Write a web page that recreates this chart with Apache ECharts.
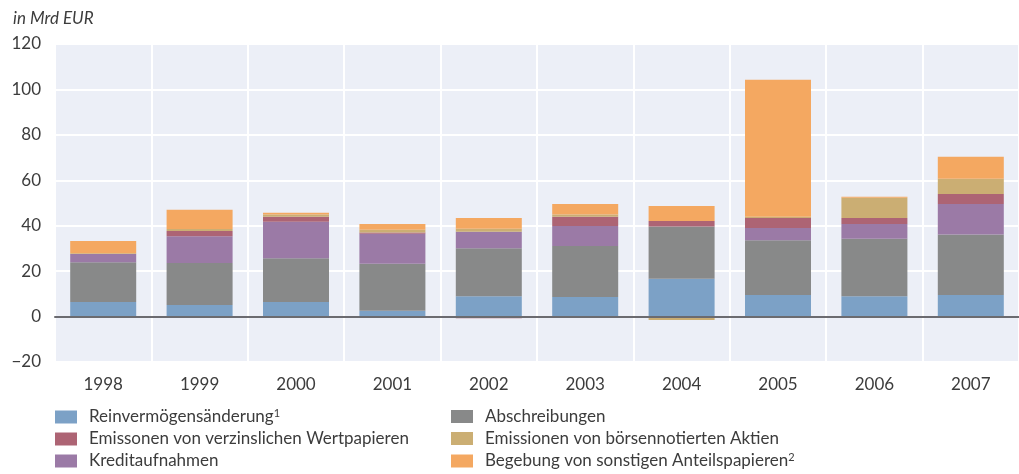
<!DOCTYPE html>
<html>
<head>
<meta charset="utf-8">
<script src="https://cdn.jsdelivr.net/npm/echarts@6/dist/echarts.min.js"></script>
<style>
  html, body { margin: 0; padding: 0; background: #fff; }
  #chart { width: 1019px; height: 474px; }
</style>
</head>
<body>
<div id="chart"></div>
<script>
// Jahre
var years = ["1998", "1999", "2000", "2001", "2002", "2003", "2004", "2005", "2006", "2007"];
// Werte in Mrd EUR
var reinvermoegen = [6.4, 5.1, 6.4, 2.6, 9.0, 8.6, 16.7, 9.5, 9.0, 9.5];
var abschreibungen = [17.5, 18.5, 19.3, 20.6, 21.1, 22.5, 22.9, 24.1, 25.3, 26.6];
var kredite = [3.6, 11.8, 16.0, 13.3, 7.2, 8.8, 0, 5.4, 6.5, 13.5];
var verzinslich = [-0.5, 2.3, 2.2, 0.5, -0.7, 4.0, 2.5, 4.4, 2.6, 4.4];
var aktien = [0.4, 0.9, 1.0, 1.2, 1.4, 1.0, -1.5, 0.5, 8.9, 6.7];
var sonstige = [5.4, 8.4, 0.8, 2.6, 4.7, 4.7, 6.6, 60.4, 0.4, 9.7];
var yTicks = [-20, 0, 20, 40, 60, 80, 100, 120];

var names = {
  blue: "Reinvermögensänderung",
  red: "Emissonen von verzinslichen Wertpapieren",
  purple: "Kreditaufnahmen",
  gray: "Abschreibungen",
  tan: "Emissionen von börsennotierten Aktien",
  orange: "Begebung von sonstigen Anteilspapieren"
};
var sup = {};
sup[names.blue] = "1";
sup[names.orange] = "2";

var font = "Lato, 'Open Sans', sans-serif";
var textColor = "#3c3c3c";

var legendText = {
  color: textColor,
  fontFamily: font,
  fontSize: 17,
  rich: {
    t: { color: textColor, fontFamily: font, fontSize: 17, lineHeight: 18, padding: [0, 0, 0, 7] },
    s: { color: textColor, fontFamily: font, fontSize: 11, lineHeight: 11, verticalAlign: "top" }
  }
};
function legendFormatter(name) {
  return "{t|" + name + "}" + (sup[name] ? "{s|" + sup[name] + "}" : "");
}

function barSeries(name, data, color) {
  return {
    name: name,
    type: "bar",
    stack: "total",
    barWidth: 66,
    data: data,
    itemStyle: { color: color },
    emphasis: { disabled: true }
  };
}

function legendBlock(left, data) {
  return {
    orient: "vertical",
    left: left,
    top: 408,
    height: 70,
    icon: "rect",
    itemWidth: 22,
    itemHeight: 13,
    itemGap: 5,
    padding: 0,
    selectedMode: false,
    data: data,
    formatter: legendFormatter,
    textStyle: legendText
  };
}

var chart = echarts.init(document.getElementById("chart"));
var option = {
  animation: false,
  backgroundColor: "#ffffff",
  title: {
    text: "in Mrd EUR",
    left: 8,
    top: 5,
    textStyle: { color: textColor, fontFamily: font, fontSize: 17, fontStyle: "italic", fontWeight: "normal" }
  },
  grid: {
    left: 55,
    right: -11,
    top: 44,
    bottom: 112,
    show: true,
    backgroundColor: "#eceff7",
    borderWidth: 0
  },
  legend: [
    legendBlock(55, [names.blue, names.red, names.purple]),
    legendBlock(451, [names.gray, names.tan, names.orange])
  ],
  xAxis: {
    type: "category",
    data: years,
    z: 10,
    axisLine: { show: true, onZero: true, lineStyle: { color: "#6b6b70", width: 2 } },
    axisTick: { show: false },
    axisLabel: { color: textColor, fontFamily: font, fontSize: 17, margin: 14 },
    splitLine: { show: true, lineStyle: { color: "#ffffff", width: 2 } }
  },
  yAxis: {
    type: "value",
    min: yTicks[0],
    max: yTicks[yTicks.length - 1],
    interval: 20,
    axisLine: { show: false },
    axisTick: { show: false },
    axisLabel: {
      color: textColor,
      fontFamily: font,
      fontSize: 17,
      margin: 14,
      formatter: function (v) { return v < 0 ? "\u2212" + Math.abs(v) : String(v); }
    },
    splitLine: { show: true, lineStyle: { color: "#ffffff", width: 2 } }
  },
  series: [
    barSeries(names.blue, reinvermoegen, "#7ca1c6"),
    barSeries(names.gray, abschreibungen, "#888989"),
    barSeries(names.purple, kredite, "#9b7aa6"),
    barSeries(names.red, verzinslich, "#ad6474"),
    barSeries(names.tan, aktien, "#cbae73"),
    barSeries(names.orange, sonstige, "#f4a861")
  ]
};
chart.setOption(option);
</script>
</body>
</html>
